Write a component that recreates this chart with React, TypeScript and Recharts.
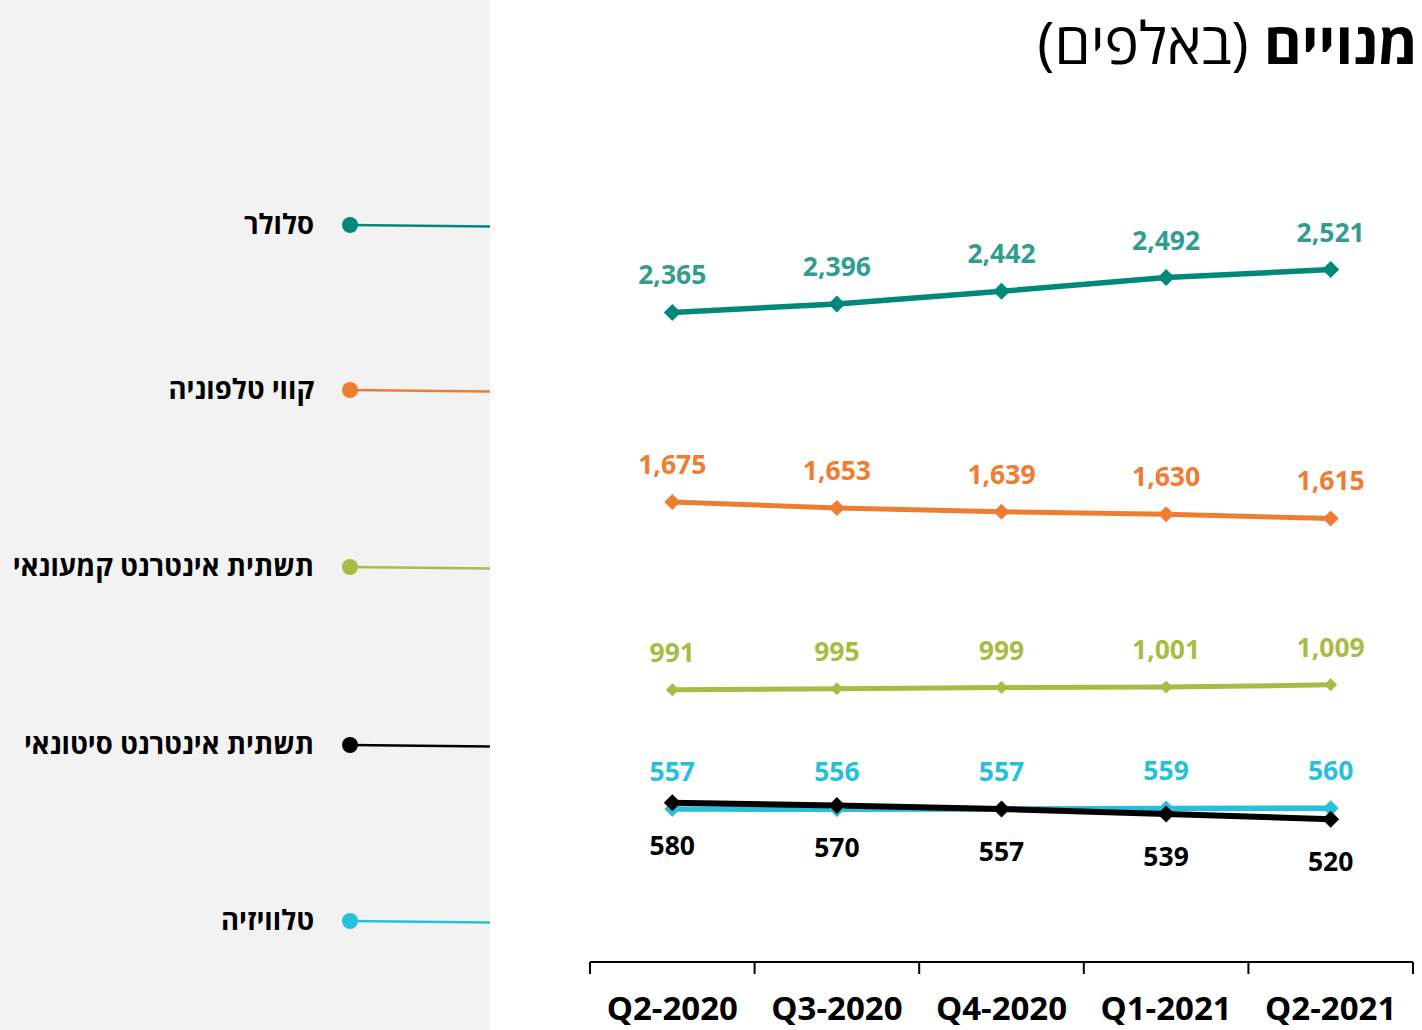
import { LineChart, Line, XAxis, YAxis, LabelList } from 'recharts'

const QUARTERS = ['Q2-2020', 'Q3-2020', 'Q4-2020', 'Q1-2021', 'Q2-2021']
const CELLULAR = [2365, 2396, 2442, 2492, 2521]
const LANDLINE = [1675, 1653, 1639, 1630, 1615]
const RETAIL_INTERNET = [991, 995, 999, 1001, 1009]
const WHOLESALE_INTERNET = [580, 570, 557, 539, 520]
const TELEVISION = [557, 556, 557, 559, 560]

const FONT = '"Open Sans", "DejaVu Sans", sans-serif'
const TICK_SIZE = 12

type Series = {
  key: string
  name: string
  values: number[]
  color: string
  labelColor: string
  width: number
  marker: number
  labelSide: 'top' | 'bottom'
}

// legend order (top to bottom) is also the order used for the side panel
const SERIES: Series[] = [
  { key: 'cellular', name: 'סלולר', values: CELLULAR, color: '#00897B', labelColor: '#339C91', width: 5.5, marker: 8.5, labelSide: 'top' },
  { key: 'landline', name: 'קווי טלפוניה', values: LANDLINE, color: '#EF7D31', labelColor: '#EF7D31', width: 5, marker: 8, labelSide: 'top' },
  { key: 'retail', name: 'תשתית אינטרנט קמעונאי', values: RETAIL_INTERNET, color: '#A8BC45', labelColor: '#A8BC45', width: 5, marker: 6.5, labelSide: 'top' },
  { key: 'wholesale', name: 'תשתית אינטרנט סיטונאי', values: WHOLESALE_INTERNET, color: '#000000', labelColor: '#000000', width: 6, marker: 8.5, labelSide: 'bottom' },
  { key: 'tv', name: 'טלוויזיה', values: TELEVISION, color: '#27C0DA', labelColor: '#27C0DA', width: 5.5, marker: 8, labelSide: 'top' },
]

// cyan is painted under the black line
const DRAW_ORDER = ['cellular', 'landline', 'retail', 'tv', 'wholesale']

const LEGEND_Y = [225, 390, 567, 745, 921]

const data = QUARTERS.map((quarter, i) => {
  const row: Record<string, string | number> = { quarter }
  SERIES.forEach((s) => {
    row[s.key] = s.values[i]
  })
  return row
})

const fmt = (v: number) => Number(v).toLocaleString('en-US')

function diamond(color: string, r: number) {
  return (props: any) => {
    const { cx, cy, index } = props
    if (cx == null || cy == null) return <g key={`d-${index}`} />
    return (
      <path
        key={`d-${index}`}
        d={`M${cx},${cy - r}L${cx + r},${cy}L${cx},${cy + r}L${cx - r},${cy}Z`}
        fill={color}
      />
    )
  }
}

function QuarterTick(props: any) {
  const { x, y, payload, index, visibleTicksCount } = props
  const half = payload?.offset ?? 82
  const axisY = y - TICK_SIZE
  return (
    <g>
      <line x1={x - half} x2={x - half} y1={axisY} y2={axisY + TICK_SIZE} stroke="#000" strokeWidth={2} />
      {index === visibleTicksCount - 1 && (
        <line x1={x + half} x2={x + half} y1={axisY} y2={axisY + TICK_SIZE} stroke="#000" strokeWidth={2} />
      )}
      <text
        x={x}
        y={axisY + 58}
        textAnchor="middle"
        fill="#000"
        fontSize={33}
        fontWeight={700}
        fontFamily={FONT}
      >
        {payload.value}
      </text>
    </g>
  )
}

function SidePanel() {
  return (
    <div
      style={{
        position: 'absolute',
        left: 0,
        top: 0,
        width: 490,
        height: 1030,
        background: '#F2F2F2',
      }}
    >
      <svg width={490} height={1030} style={{ position: 'absolute', left: 0, top: 0 }}>
        {SERIES.map((s, i) => (
          <g key={s.key}>
            <line x1={350} y1={LEGEND_Y[i]} x2={490} y2={LEGEND_Y[i] + 1.5} stroke={s.color} strokeWidth={2.5} />
            <circle cx={350} cy={LEGEND_Y[i]} r={8} fill={s.color} />
          </g>
        ))}
      </svg>
      {SERIES.map((s, i) => (
        <div
          key={s.key}
          style={{
            position: 'absolute',
            right: 490 - 314,
            top: LEGEND_Y[i] - 21,
            height: 40,
            lineHeight: '40px',
            direction: 'rtl',
            whiteSpace: 'nowrap',
            fontFamily: FONT,
            fontWeight: 700,
            fontSize: 27.5,
            color: '#000',
          }}
        >
          {s.name}
        </div>
      ))}
    </div>
  )
}

export default function App() {
  const ordered = DRAW_ORDER.map((k) => SERIES.find((s) => s.key === k)!)
  return (
    <div
      style={{
        position: 'absolute',
        left: 0,
        top: 0,
        width: 1422,
        height: 1030,
        background: '#FFFFFF',
        fontFamily: FONT,
        overflow: 'hidden',
      }}
    >
      <SidePanel />
      <div
        style={{
          position: 'absolute',
          right: 4,
          top: 2,
          height: 80,
          lineHeight: '80px',
          direction: 'rtl',
          whiteSpace: 'nowrap',
          fontSize: 58,
          color: '#000',
        }}
      >
        <span style={{ fontWeight: 700 }}>מנויים</span> (באלפים)
      </div>
      <div style={{ position: 'absolute', left: 0, top: 0 }}>
        <LineChart
          width={1422}
          height={1030}
          data={data}
          margin={{ top: 138, right: 9, bottom: 8, left: 590 }}
        >
          <XAxis
            dataKey="quarter"
            scale="band"
            interval={0}
            height={60}
            tickSize={TICK_SIZE}
            tickMargin={0}
            tickLine={false}
            axisLine={{ stroke: '#000', strokeWidth: 2 }}
            tick={<QuarterTick />}
          />
          <YAxis hide domain={[0, 3000]} />
          {ordered.map((s) => (
            <Line
              key={s.key}
              dataKey={s.key}
              name={s.name}
              type="linear"
              stroke={s.color}
              strokeWidth={s.width}
              dot={diamond(s.color, s.marker)}
              activeDot={false}
              isAnimationActive={false}
            >
              <LabelList
                dataKey={s.key}
                position={s.labelSide}
                offset={s.labelSide === 'top' ? 28 : 33}
                formatter={(v: any) => fmt(v)}
                fill={s.labelColor}
                fontSize={26.5}
                fontWeight={700}
                fontFamily={FONT}
              />
            </Line>
          ))}
        </LineChart>
      </div>
    </div>
  )
}
